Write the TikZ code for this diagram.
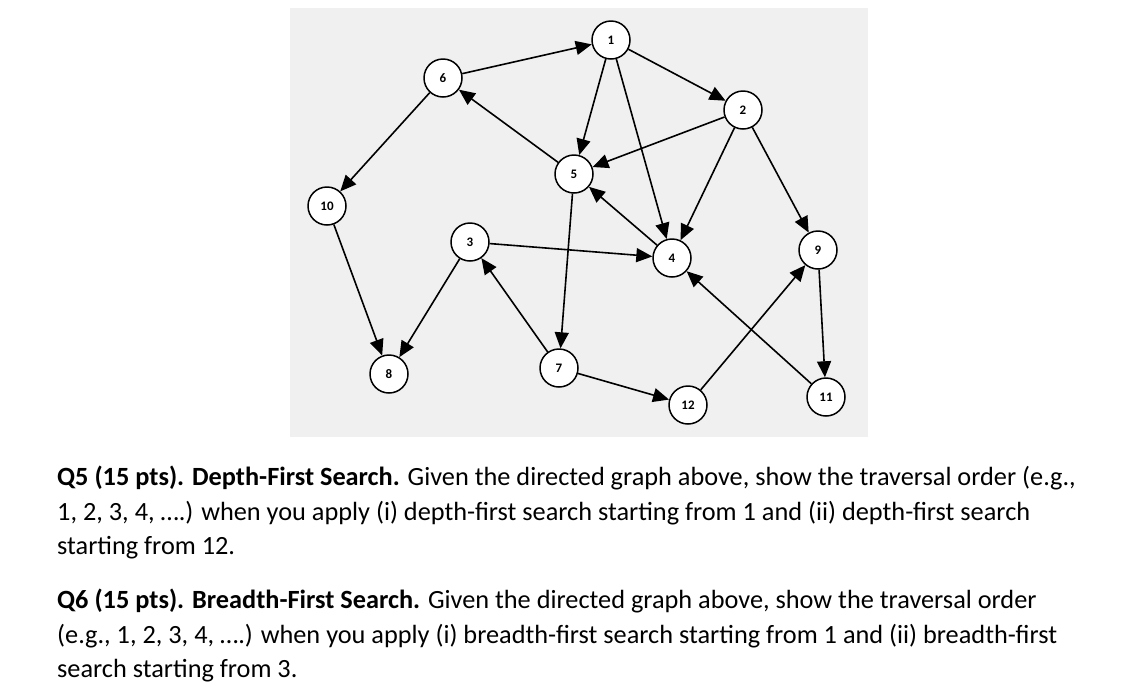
\documentclass[tikz,border=0pt]{standalone}
\usepackage{fontspec}
\setmainfont{Carlito}
\usetikzlibrary{arrows.meta}
\begin{document}
\begin{tikzpicture}[x=1pt,y=-1pt,
  vtx/.style={circle,draw,line width=1.5pt,fill=white,minimum size=38pt,inner sep=0pt,font=\fontsize{13}{13}\selectfont\bfseries},
  edge/.style={line width=1.6pt,-{Triangle[length=16pt,width=14pt]}},
  para/.style={anchor=west,font=\fontsize{26.3}{35}\selectfont,inner sep=0pt}]
\useasboundingbox (0,0) rectangle (1139,689);
\fill[black!6] (290,8) rectangle (868,437);
\node[vtx] (n1) at (611,40) {1};
\node[vtx] (n6) at (443,78) {6};
\node[vtx] (n2) at (743,110) {2};
\node[vtx] (n5) at (574,174) {5};
\node[vtx] (n10) at (327,206) {10};
\node[vtx] (n3) at (470,242) {3};
\node[vtx] (n4) at (672,258) {4};
\node[vtx] (n9) at (818,250) {9};
\node[vtx] (n8) at (389,374) {8};
\node[vtx] (n7) at (559,368) {7};
\node[vtx] (n12) at (688,405) {12};
\node[vtx] (n11) at (826,397) {11};
\foreach \a/\b in {n6/n1,n1/n2,n1/n5,n1/n4,n2/n5,n2/n4,n2/n9,n5/n6,n4/n5,n6/n10,n10/n8,n3/n8,n3/n4,n5/n7,n7/n3,n7/n12,n12/n9,n11/n4,n9/n11}
  \draw[edge] (\a) -- (\b);
\node[para] (l1) at (57,478) {\textbf{Q5 (15 pts). Depth-First Search.} Given the directed graph above, show the traversal order (e.g.,};
\node[para] (l2) at (57,513) {1, 2, 3, 4, ….) when you apply (i) depth-first search starting from 1 and (ii) depth-first search};
\node[para] (l3) at (57,548) {starting from 12.};
\node[para] (l4) at (57,601) {\textbf{Q6 (15 pts). Breadth-First Search.} Given the directed graph above, show the traversal order};
\node[para] (l5) at (57,636) {(e.g., 1, 2, 3, 4, ….) when you apply (i) breadth-first search starting from 1 and (ii) breadth-first};
\node[para] (l6) at (57,671) {search starting from 3.};
\end{tikzpicture}
\end{document}
